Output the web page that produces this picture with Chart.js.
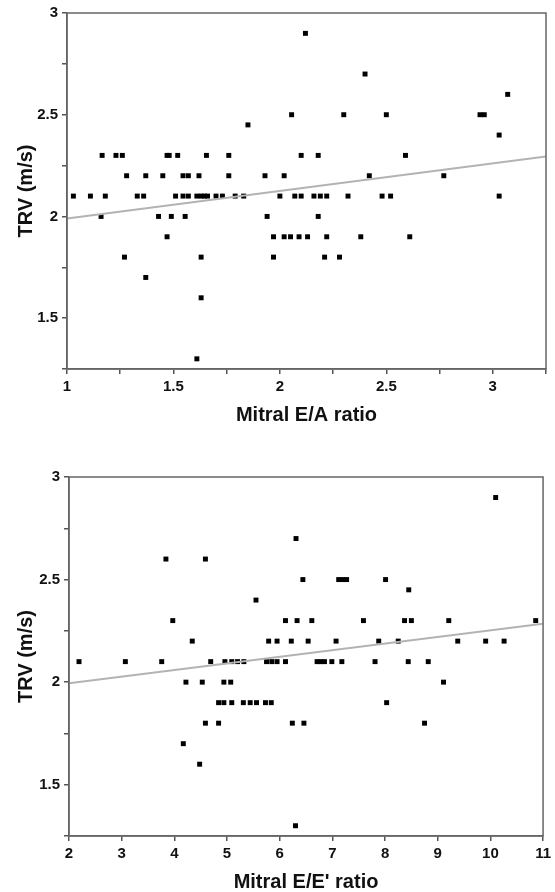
<!DOCTYPE html>
<html>
<head>
<meta charset="utf-8">
<script src="https://cdn.jsdelivr.net/npm/chart.js@4/dist/chart.umd.min.js"></script>
<style>
  html, body { margin: 0; padding: 0; background: #fff; }
  .box { width: 555px; height: 446px; }
  canvas { display: block; }
</style>
</head>
<body>
<div class="box"><canvas id="chartEA" width="555" height="446"></canvas></div>
<div class="box"><canvas id="chartEE" width="555" height="446"></canvas></div>
<script>
// top panel: mitral E/A ratio vs TRV (one line per TRV level)
const eaRatio = [
  2.12,
  2.40,
  3.07,
  2.055, 2.30, 2.50, 2.94, 2.96,
  1.85,
  3.03,
  1.165, 1.23, 1.26, 1.47, 1.48, 1.52, 1.655, 1.76, 2.10, 2.18, 2.59,
  1.28, 1.37, 1.45, 1.545, 1.57, 1.62, 1.76, 1.93, 2.02, 2.42, 2.77,
  1.03, 1.11, 1.18, 1.33, 1.36, 1.51, 1.545, 1.57, 1.61, 1.63, 1.645, 1.66, 1.70, 1.73, 1.79, 1.83, 2.00, 2.07, 2.10, 2.16, 2.19, 2.22, 2.32, 2.48, 2.52, 3.03,
  1.16, 1.43, 1.49, 1.555, 1.94, 2.18,
  1.47, 1.97, 2.02, 2.05, 2.09, 2.13, 2.22, 2.38, 2.61,
  1.27, 1.63, 1.97, 2.21, 2.28,
  1.37,
  1.63,
  1.61
];
const eaTrv = [
  2.9,
  2.7,
  2.6,
  2.5, 2.5, 2.5, 2.5, 2.5,
  2.45,
  2.4,
  2.3, 2.3, 2.3, 2.3, 2.3, 2.3, 2.3, 2.3, 2.3, 2.3, 2.3,
  2.2, 2.2, 2.2, 2.2, 2.2, 2.2, 2.2, 2.2, 2.2, 2.2, 2.2,
  2.1, 2.1, 2.1, 2.1, 2.1, 2.1, 2.1, 2.1, 2.1, 2.1, 2.1, 2.1, 2.1, 2.1, 2.1, 2.1, 2.1, 2.1, 2.1, 2.1, 2.1, 2.1, 2.1, 2.1, 2.1, 2.1,
  2.0, 2.0, 2.0, 2.0, 2.0, 2.0,
  1.9, 1.9, 1.9, 1.9, 1.9, 1.9, 1.9, 1.9, 1.9,
  1.8, 1.8, 1.8, 1.8, 1.8,
  1.7,
  1.6,
  1.3
];
const eaTrendX = [1, 3.25];
const eaTrendY = [1.99, 2.295];

// bottom panel: mitral E/E' ratio vs TRV
const eeRatio = [
  10.10,
  6.31,
  3.84, 4.59,
  6.44, 7.12, 7.20, 7.27, 8.01,
  8.45,
  5.55,
  3.97, 6.11, 6.33, 6.61, 7.59, 8.37, 8.50, 9.21, 10.86,
  4.34, 5.79, 5.95, 6.22, 6.54, 7.07, 7.88, 8.25, 9.38, 9.91, 10.26,
  2.19, 3.07, 3.76, 4.69, 4.96, 5.09, 5.20, 5.32, 5.75, 5.85, 5.95, 6.11, 6.71, 6.78, 6.85, 6.99, 7.18, 7.81, 8.44, 8.82,
  4.22, 4.53, 4.94, 5.07, 9.11,
  4.84, 4.94, 5.09, 5.31, 5.44, 5.56, 5.73, 5.84, 8.03,
  4.59, 4.84, 6.24, 6.46, 8.75,
  4.17,
  4.48,
  6.30
];
const eeTrv = [
  2.9,
  2.7,
  2.6, 2.6,
  2.5, 2.5, 2.5, 2.5, 2.5,
  2.45,
  2.4,
  2.3, 2.3, 2.3, 2.3, 2.3, 2.3, 2.3, 2.3, 2.3,
  2.2, 2.2, 2.2, 2.2, 2.2, 2.2, 2.2, 2.2, 2.2, 2.2, 2.2,
  2.1, 2.1, 2.1, 2.1, 2.1, 2.1, 2.1, 2.1, 2.1, 2.1, 2.1, 2.1, 2.1, 2.1, 2.1, 2.1, 2.1, 2.1, 2.1, 2.1,
  2.0, 2.0, 2.0, 2.0, 2.0,
  1.9, 1.9, 1.9, 1.9, 1.9, 1.9, 1.9, 1.9, 1.9,
  1.8, 1.8, 1.8, 1.8, 1.8,
  1.7,
  1.6,
  1.3
];
const eeTrendX = [2, 11];
const eeTrendY = [1.995, 2.285];

// tick labels
const eaTickLabels = [1, 1.5, 2, 2.5, 3];
const eeTickLabels = [2, 3, 4, 5, 6, 7, 8, 9, 10, 11];
const trvTickLabels = [1.5, 2, 2.5, 3];

const FONT = "'Liberation Sans', Arial, sans-serif";

const frame = {
  id: 'frame',
  afterDraw(chart) {
    const { ctx, chartArea: a } = chart;
    ctx.save();
    ctx.strokeStyle = '#666';
    ctx.lineWidth = 1.5;
    ctx.strokeRect(a.left, a.top, a.right - a.left, a.bottom - a.top);
    ctx.restore();
  }
};

function toPoints(xs, ys) {
  return xs.map((x, i) => ({ x: x, y: ys[i] }));
}

function axisStyle(labels) {
  return {
    ticks: {
      autoSkip: false,
      maxRotation: 0,
      padding: 4,
      color: '#111',
      font: { family: FONT, size: 15, weight: 'bold' },
      callback: v => labels.includes(v) ? String(v) : ''
    },
    grid: { drawOnChartArea: false, drawTicks: true, tickLength: 5, color: '#555', lineWidth: 1.5 },
    border: { display: true, color: '#666', width: 1.5 }
  };
}

function drawPanel(id, xs, ys, trendX, trendY, xCfg, layout) {
  const xAxis = axisStyle(xCfg.labels);
  const yAxis = axisStyle(trvTickLabels);

  new Chart(document.getElementById(id), {
    type: 'scatter',
    data: {
      datasets: [
        {
          data: toPoints(trendX, trendY),
          showLine: true,
          borderColor: '#b3b3b3',
          borderWidth: 2,
          pointRadius: 0,
          order: 0
        },
        {
          data: toPoints(xs, ys),
          pointStyle: 'rect',
          pointRadius: 3.5,
          backgroundColor: '#000',
          borderWidth: 0,
          order: 1
        }
      ]
    },
    options: {
      responsive: false,
      animation: false,
      devicePixelRatio: 1,
      events: [],
      layout: { padding: { top: layout.top, right: layout.right, left: 0, bottom: 0 } },
      plugins: { legend: { display: false }, tooltip: { enabled: false } },
      scales: {
        x: {
          type: 'linear',
          min: xCfg.min,
          max: xCfg.max,
          afterFit: s => { s.height = layout.xHeight; },
          ticks: Object.assign(xAxis.ticks, { stepSize: xCfg.step }),
          grid: xAxis.grid,
          border: xAxis.border,
          title: {
            display: true,
            text: xCfg.title,
            color: '#111',
            font: { family: FONT, size: 20, weight: 'bold', lineHeight: 1 },
            padding: { top: 0, bottom: layout.titlePad }
          }
        },
        y: {
          type: 'linear',
          min: 1.25,
          max: 3,
          afterFit: s => { s.width = layout.yWidth; },
          ticks: Object.assign(yAxis.ticks, { stepSize: 0.25 }),
          grid: yAxis.grid,
          border: yAxis.border,
          title: {
            display: true,
            text: 'TRV (m/s)',
            color: '#111',
            font: { family: FONT, size: 20, weight: 'bold', lineHeight: 1 },
            padding: { top: 16, bottom: 0 }
          }
        }
      }
    },
    plugins: [frame]
  });
}

drawPanel('chartEA', eaRatio, eaTrv, eaTrendX, eaTrendY,
  { min: 1, max: 3.25, step: 0.25, labels: eaTickLabels, title: 'Mitral E/A ratio' },
  { top: 11, right: 9, yWidth: 67, xHeight: 77, titlePad: 21 });

drawPanel('chartEE', eeRatio, eeTrv, eeTrendX, eeTrendY,
  { min: 2, max: 11, step: 1, labels: eeTickLabels, title: "Mitral E/E' ratio" },
  { top: 31, right: 8, yWidth: 69, xHeight: 56, titlePad: 0 });
</script>
</body>
</html>
